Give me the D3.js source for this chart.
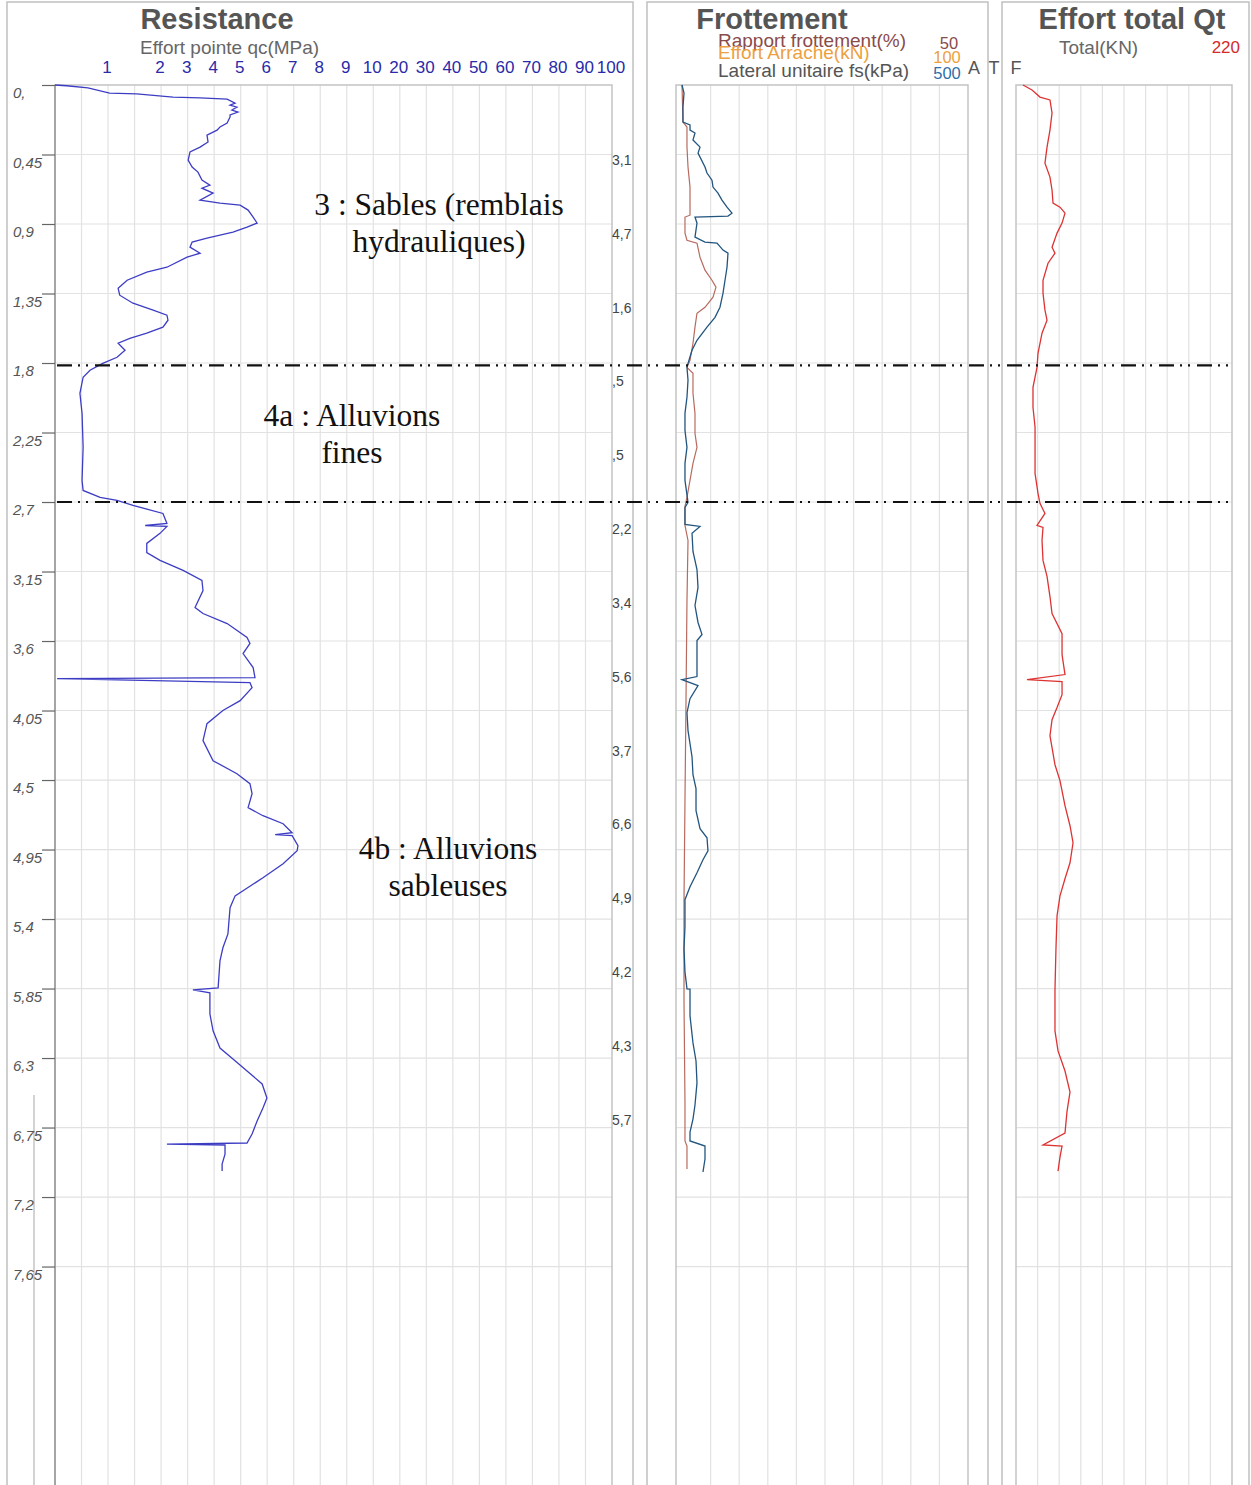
<!DOCTYPE html>
<html><head><meta charset="utf-8">
<script src="https://cdn.jsdelivr.net/npm/d3@7"></script>
<style>
body{margin:0;background:#fff}
svg{display:block}
</style>
</head><body>
<svg id="chart" width="1251" height="1485"></svg>
<script>
// ---------- DATA ----------
const depthTicks = [0,0.45,0.9,1.35,1.8,2.25,2.7,3.15,3.6,4.05,4.5,4.95,5.4,5.85,6.3,6.75,7.2,7.65];
const depthTickLabels = ["0,","0,45","0,9","1,35","1,8","2,25","2,7","3,15","3,6","4,05","4,5","4,95","5,4","5,85","6,3","6,75","7,2","7,65"];
const qcTickValues = [1,2,3,4,5,6,7,8,9,10,20,30,40,50,60,70,80,90,100];
const qcTickLabels = ["1","2","3","4","5","6","7","8","9","10","20","30","40","50","60","70","80","90","100"];
const qcGridValues = [0.5,1,1.5,2,3,4,5,6,7,8,9,10,20,30,40,50,60,70,80,90,100];
// depth (m), qc (MPa)
const qcDepth = [0,0.005,0.019,0.052,0.058,0.078,0.084,0.091,0.117,0.13,0.143,0.162,0.175,0.194,0.207,0.246,0.272,0.292,0.324,0.369,0.402,0.434,0.486,0.531,0.564,0.616,0.648,0.668,0.70,0.745,0.765,0.778,0.81,0.855,0.894,0.92,0.953,0.972,0.992,1.017,1.05,1.089,1.115,1.18,1.212,1.264,1.316,1.361,1.413,1.458,1.49,1.523,1.568,1.607,1.64,1.672,1.717,1.763,1.802,1.847,1.892,1.996,2.126,2.346,2.56,2.625,2.67,2.69,2.722,2.774,2.839,2.852,2.858,2.903,2.968,3.027,3.078,3.143,3.208,3.273,3.383,3.422,3.487,3.577,3.616,3.681,3.772,3.837,3.843,3.869,3.902,3.986,4.05,4.135,4.245,4.375,4.459,4.524,4.588,4.679,4.731,4.783,4.841,4.854,4.86,4.925,4.958,5.042,5.133,5.217,5.25,5.327,5.496,5.586,5.671,5.846,5.859,5.878,6.014,6.124,6.235,6.306,6.384,6.468,6.559,6.624,6.708,6.792,6.85,6.857,6.863,6.922,6.986,7.032];
const qcValues = [0,0.22,0.62,1.03,1.54,2.45,3.47,4.49,4.79,4.6,4.86,4.67,4.9,4.6,4.6,4.49,4.22,4.11,3.73,3.77,3.47,3.09,3.02,3.17,3.39,3.54,3.84,3.54,3.96,3.47,4.22,4.98,5.28,5.47,5.62,5.24,4.71,4.22,3.73,3.17,3.09,3.47,2.98,2.22,1.73,1.36,1.19,1.22,1.47,1.85,2.22,2.26,2.07,1.73,1.41,1.19,1.32,1.17,0.90,0.66,0.53,0.47,0.51,0.53,0.51,0.53,0.85,1.17,1.47,2.07,2.22,1.7,2.22,1.98,1.73,1.73,1.98,2.83,3.54,3.58,3.28,3.58,4.49,5.24,5.35,5.09,5.47,5.54,0.04,5.35,5.43,4.98,4.33,3.73,3.58,3.96,4.86,5.35,5.43,5.28,5.84,6.6,6.94,6.3,6.94,7.16,7.13,6.6,5.84,5.09,4.79,4.6,4.52,4.33,4.22,4.15,3.2,3.84,3.84,3.96,4.22,4.71,5.24,5.81,5.99,5.84,5.62,5.43,5.24,2.22,4.41,4.41,4.3,4.3];
// Lateral unitaire fs (kPa)
const fsDepth = [0,0.052,0.143,0.24,0.259,0.292,0.311,0.356,0.402,0.441,0.531,0.57,0.616,0.661,0.70,0.745,0.791,0.83,0.849,0.855,0.894,0.985,1.017,1.024,1.069,1.089,1.18,1.264,1.348,1.439,1.504,1.568,1.653,1.717,1.802,1.828,1.912,2.022,2.126,2.236,2.346,2.45,2.56,2.703,2.735,2.845,2.858,2.903,3.02,3.137,3.253,3.37,3.48,3.558,3.597,3.714,3.83,3.85,3.889,3.973,4.064,4.18,4.349,4.465,4.556,4.699,4.815,4.874,4.958,5.016,5.1,5.191,5.275,5.45,5.593,5.742,5.852,5.853,6.027,6.202,6.319,6.461,6.604,6.695,6.779,6.837,6.87,6.954,7.038];
const fsValues = [0,3.5,1.7,1.7,14,14,22.7,19.2,31.5,28,40.2,43.7,52.4,54.2,62.9,69.9,78.7,87.4,80.4,22.7,26.2,22.7,40.2,61.2,71.7,80.4,78.7,75.2,71.7,66.4,57.7,43.7,26.2,17.5,10.5,8.7,10.5,8.7,5.2,5.2,8.7,5.2,5.2,10.5,5.2,5.2,31.5,17.5,19.2,26.2,28,22.7,28,35,26.2,26.2,26.2,0,28,14,8.7,10.5,17.5,19.2,24.5,24.5,31.5,43.7,45.4,36.7,26.2,14,5.2,5.2,3.5,5.2,8.7,14,14,19.2,24.5,26.2,22.7,19.2,14,14,40.2,40.2,36.7];
// Rapport frottement (%)
const rfDepth = [0,0.24,0.272,0.402,0.531,0.661,0.791,0.843,0.855,0.959,1.005,1.024,1.115,1.199,1.264,1.309,1.374,1.439,1.478,1.568,1.672,1.782,1.828,1.866,1.996,2.126,2.255,2.346,2.45,2.56,2.67,2.728,2.852,2.949,3.338,3.986,4.634,5.282,5.93,6.578,6.837,6.87,7.019];
const rfValues = [0,0.17,0.87,0.87,1.05,1.4,1.4,1.4,0.52,0.52,0.87,2.62,3.15,4.02,5.24,5.94,5.42,4.02,2.62,2.27,1.92,1.4,0.87,1.92,1.92,2.27,2.27,2.62,1.92,1.4,0.87,0.52,0.52,1.05,0.87,0.7,0.52,0.35,0.35,0.52,0.52,0.87,0.87];
// Total (kN)
const qtDepth = [0,0.032,0.078,0.097,0.181,0.292,0.402,0.506,0.596,0.68,0.765,0.791,0.83,0.894,0.959,1.05,1.089,1.154,1.264,1.348,1.458,1.523,1.607,1.737,1.828,1.957,2.087,2.216,2.346,2.515,2.644,2.709,2.774,2.852,2.865,2.949,3.078,3.182,3.312,3.422,3.552,3.688,3.817,3.85,3.863,3.947,4.031,4.109,4.213,4.401,4.504,4.666,4.796,4.906,5.036,5.139,5.25,5.379,5.593,5.859,6.124,6.254,6.384,6.52,6.649,6.786,6.863,6.87,6.941,7.032];
const qtValues = [7.1,16.3,24.4,34.6,36.7,34.6,31.6,29.5,34.6,36.7,37.7,44.8,49.9,46.9,41.8,36.7,39.7,32.6,27.5,27.5,29.5,31.6,26.5,22.4,21.4,17.3,17.3,19.4,19.4,19.4,22.4,24.4,29.5,21.4,27.5,26.5,27.5,31.6,34.6,36.7,46.9,46.9,49.9,11.2,46.9,46.9,41.8,36.7,34.6,39.7,44.8,49.9,55,58.1,55,49.9,44.8,41.8,40.7,39.7,39.7,42.8,49.9,55,51.9,49.9,27.5,46.9,44.8,42.8];
const ratioLabels = ["3,1","4,7","1,6",",5",",5","2,2","3,4","5,6","3,7","6,6","4,9","4,2","4,3","5,7"];
const ratioDepths = [0.485,0.963,1.441,1.919,2.397,2.875,3.353,3.831,4.309,4.787,5.265,5.743,6.221,6.699];
const layerBoundaries = [1.815, 2.70];
const layerNotes = [["3 : Sables (remblais","hydrauliques)"],["4a : Alluvions","fines"],["4b : Alluvions","sableuses"]];
const titles = ["Resistance","Frottement","Effort total Qt"];

// ---------- LAYOUT ----------
const SANS = "'Liberation Sans',Arial,Helvetica,sans-serif";
const SERIF = "'Liberation Serif','Times New Roman',serif";
const svg = d3.select("#chart").style("font-family", SANS);
const PX_PER_M = 154.45;
const y = d3.scaleLinear().domain([0, 1400/PX_PER_M]).range([85, 1485]);
const qcIdx = [0,2,4,5,6,7,8,9,10,11,12,13,14,15,16,17,18,19,20,21];
const qcDomain = [0,1,2,3,4,5,6,7,8,9,10,20,30,40,50,60,70,80,90,100];
const step = (612-55)/21;
const xqc = d3.scaleLinear().domain(qcDomain).range(qcIdx.map(i=>55+i*step));
const xfs = d3.scaleLinear().domain([0,500]).range([682,968]);
const xrf = d3.scaleLinear().domain([0,50]).range([682,968]);
const xqt = d3.scaleLinear().domain([0,220]).range([1016,1232]);

const gridC = "#e2e2e2", frameC = "#c4c4c4", axisC = "#9a9a9a";

// outer panel frames
[[7,633],[647,988],[1002,1249]].forEach(([a,b])=>{
  svg.append("rect").attr("x",a).attr("y",2).attr("width",b-a).attr("height",1500)
    .attr("fill","none").attr("stroke",frameC).attr("stroke-width",1.6);
});

// horizontal depth grid in each plot
const plots = [[55,612],[676,968],[1016,1232]];
plots.forEach(([a,b])=>{
  svg.append("g").selectAll("line").data(depthTicks.slice(1)).join("line")
    .attr("x1",a).attr("x2",b).attr("y1",d=>y(d)).attr("y2",d=>y(d))
    .attr("stroke",gridC).attr("stroke-width",1.2);
});
// vertical grids
svg.append("g").selectAll("line").data(qcGridValues.slice(0,-1)).join("line")
  .attr("x1",d=>xqc(d)).attr("x2",d=>xqc(d)).attr("y1",85).attr("y2",1485)
  .attr("stroke",gridC).attr("stroke-width",1.2);
svg.append("g").selectAll("line").data(d3.range(50,500,50)).join("line")
  .attr("x1",d=>xfs(d)).attr("x2",d=>xfs(d)).attr("y1",85).attr("y2",1485)
  .attr("stroke",gridC).attr("stroke-width",1.2);
svg.append("g").selectAll("line").data(d3.range(22,220,22)).join("line")
  .attr("x1",d=>xqt(d)).attr("x2",d=>xqt(d)).attr("y1",85).attr("y2",1485)
  .attr("stroke",gridC).attr("stroke-width",1.2);

// plot frames
plots.forEach(([a,b])=>{
  svg.append("path").attr("d",`M${a},1485V85H${b}V1485`).attr("fill","none")
    .attr("stroke",frameC).attr("stroke-width",1.5);
});
// extra separator line in left margin
svg.append("line").attr("x1",34).attr("x2",34).attr("y1",1095).attr("y2",1485)
  .attr("stroke",frameC).attr("stroke-width",1.5);
// depth axis line
svg.append("line").attr("x1",55).attr("x2",55).attr("y1",85).attr("y2",1485)
  .attr("stroke",axisC).attr("stroke-width",1.6);

// depth axis ticks + labels
const yAxis = d3.axisLeft(y).tickValues(depthTicks).tickSize(13).tickFormat("");
const ga = svg.append("g").attr("transform","translate(55,0)").call(yAxis);
ga.select(".domain").remove();
ga.selectAll(".tick line").attr("stroke","#666").attr("stroke-width",1.2);
svg.append("g").selectAll("text").data(depthTicks).join("text")
  .attr("x",13).attr("y",d=>y(d)+13).text((d,i)=>depthTickLabels[i])
  .attr("font-size",15).attr("font-style","italic").attr("fill","#555");

// qc top axis labels
svg.append("g").selectAll("text").data(qcTickValues).join("text")
  .attr("x",d=>xqc(d)-1).attr("y",73).attr("text-anchor","middle")
  .text((d,i)=>qcTickLabels[i]).attr("font-size",17).attr("fill","#2a2aa8");

// titles
const titleX = [217,772,1132];
titles.forEach((t,i)=>{
  svg.append("text").attr("x",titleX[i]).attr("y",29).attr("text-anchor","middle")
    .attr("font-size",29).attr("font-weight","bold").attr("fill","#555").text(t);
});
svg.append("text").attr("x",140).attr("y",54).attr("font-size",19).attr("fill","#666").text("Effort pointe qc(MPa)");
svg.append("text").attr("x",718).attr("y",47).attr("font-size",19).attr("fill","#8a4b4b").text("Rapport frottement(%)");
svg.append("text").attr("x",718).attr("y",59).attr("font-size",19).attr("fill","#eda040").text("Effort Arrache(kN)");
svg.append("text").attr("x",718).attr("y",77).attr("font-size",19).attr("fill","#555").text("Lateral unitaire fs(kPa)");
svg.append("text").attr("x",949).attr("y",49).attr("text-anchor","middle").attr("font-size",16.5).attr("fill","#8a4b4b").text("50");
svg.append("text").attr("x",947).attr("y",63).attr("text-anchor","middle").attr("font-size",16.5).attr("fill","#eda040").text("100");
svg.append("text").attr("x",947).attr("y",79).attr("text-anchor","middle").attr("font-size",16.5).attr("fill","#2d6fa8").text("500");
[["A",974],["T",994],["F",1016]].forEach(([t,x])=>{
  svg.append("text").attr("x",x).attr("y",74).attr("text-anchor","middle").attr("font-size",18).attr("fill","#555").text(t);
});
svg.append("text").attr("x",1059).attr("y",54).attr("font-size",19).attr("fill","#666").text("Total(KN)");
svg.append("text").attr("x",1240).attr("y",53).attr("text-anchor","end").attr("font-size",17).attr("fill","#d42a2a").text("220");

// ratio labels column
svg.append("g").selectAll("text").data(ratioDepths).join("text")
  .attr("x",612).attr("y",d=>y(d)+5).text((d,i)=>ratioLabels[i])
  .attr("font-size",14).attr("fill","#444");

// curves
const mk = (xs, depths, vals) => d3.line().x((d,i)=>xs(vals[i])).y((d,i)=>y(depths[i]))(depths);
svg.append("path").attr("d",mk(xqc,qcDepth,qcValues)).attr("fill","none").attr("stroke","#3d3dc4").attr("stroke-width",1.3);
svg.append("path").attr("d",mk(xrf,rfDepth,rfValues)).attr("fill","none").attr("stroke","#b86a5e").attr("stroke-width",1.2);
svg.append("path").attr("d",mk(xfs,fsDepth,fsValues)).attr("fill","none").attr("stroke","#22557f").attr("stroke-width",1.3);
svg.append("path").attr("d",mk(xqt,qtDepth,qtValues)).attr("fill","none").attr("stroke","#dd3333").attr("stroke-width",1.3);

// layer boundaries
svg.append("g").selectAll("line").data(layerBoundaries).join("line")
  .attr("x1",57).attr("x2",1232).attr("y1",d=>y(d)).attr("y2",d=>y(d))
  .attr("stroke","#111").attr("stroke-width",2.2).attr("stroke-dasharray","15,6,2,6,2,7");

// layer notes
const notePos = [[439,215,252],[352,426,463],[448,859,896]];
layerNotes.forEach((lines,i)=>{
  lines.forEach((t,j)=>{
    svg.append("text").attr("x",notePos[i][0]).attr("y",notePos[i][1+j]).attr("text-anchor","middle")
      .style("font-family",SERIF).attr("font-size",31.5).attr("fill","#111").text(t);
  });
});
</script>
</body></html>
